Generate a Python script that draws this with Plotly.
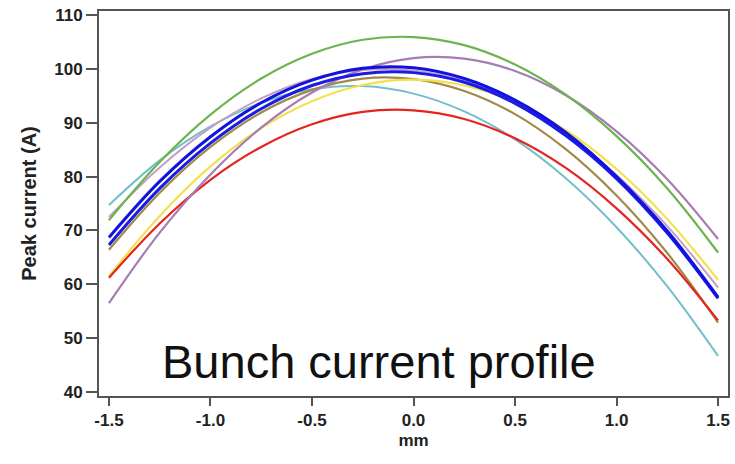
import plotly.graph_objects as go

x_mm = [-1.5, -1.25, -1.0, -0.75, -0.5, -0.25, 0.0, 0.25, 0.5, 0.75, 1.0, 1.25, 1.5]

green = [71.9, 82.7, 91.5, 98.2, 102.8, 105.4, 105.9, 104.4, 100.8, 95.2, 87.5, 77.8, 65.9]
purple = [56.5, 69.6, 80.4, 89.1, 95.6, 99.9, 102.0, 101.9, 99.6, 95.1, 88.4, 79.5, 68.4]
lavender = [72.5, 81.7, 89.1, 94.5, 98.1, 99.8, 99.7, 97.7, 93.8, 88.0, 80.3, 70.8, 59.4]
cyan = [74.7, 83.0, 89.3, 93.7, 96.2, 96.8, 95.4, 92.1, 86.9, 79.7, 70.6, 59.6, 46.7]
yellow = [61.5, 72.7, 81.9, 89.0, 94.0, 97.0, 98.0, 96.9, 93.8, 88.6, 81.4, 72.1, 60.8]
olive = [66.4, 77.0, 85.5, 91.9, 96.1, 98.2, 98.1, 95.9, 91.6, 85.1, 76.5, 65.8, 52.9]
red = [61.2, 71.3, 79.4, 85.5, 89.7, 92.0, 92.3, 90.7, 87.1, 81.6, 74.1, 64.7, 53.3]
blue1 = [68.7, 79.1, 87.4, 93.7, 97.9, 100.1, 100.2, 98.2, 94.2, 88.2, 80.0, 69.9, 57.6]
blue2 = [67.3, 77.8, 86.2, 92.6, 96.9, 99.1, 99.3, 97.5, 93.6, 87.6, 79.6, 69.5, 57.4]

y_ticks = [40, 50, 60, 70, 80, 90, 100, 110]
x_ticks = [-1.5, -1.0, -0.5, 0.0, 0.5, 1.0, 1.5]
x_tick_text = ["-1.5", "-1.0", "-0.5", "0.0", "0.5", "1.0", "1.5"]

series = [
    (cyan, "#72bfc9", 2),
    (lavender, "#c49ec4", 2),
    (olive, "#a08a48", 2.2),
    (yellow, "#f2e14e", 2.2),
    (red, "#e52420", 2.2),
    (purple, "#a77cb2", 2.2),
    (green, "#6cb44e", 2.2),
    (blue2, "#1b1be6", 3),
    (blue1, "#1212e0", 3),
]

fig = go.Figure()
for ys, col, w in series:
    fig.add_trace(go.Scatter(x=x_mm, y=ys, mode="lines",
                             line=dict(color=col, width=w, shape="spline", smoothing=1.0),
                             showlegend=False, hoverinfo="skip"))

FONT = "Liberation Sans, Arial"
tick_font = dict(family=FONT, size=17, color="#222222", weight="bold")

fig.update_layout(
    width=735, height=464,
    margin=dict(l=99, r=5, t=11, b=68),
    paper_bgcolor="white", plot_bgcolor="white",
    xaxis=dict(range=[-1.549, 1.549], tickvals=x_ticks, ticktext=x_tick_text,
               showgrid=False, zeroline=False,
               showline=True, linecolor="#555555", linewidth=2, mirror=True,
               ticks="outside", ticklen=8, tickwidth=2, tickcolor="#555555",
               tickfont=tick_font,
               title=dict(text="mm", font=dict(family=FONT, size=17,
                                                color="#222222", weight="bold"), standoff=5)),
    yaxis=dict(range=[39.26, 110.74], tickvals=y_ticks,
               showgrid=False, zeroline=False,
               showline=True, linecolor="#555555", linewidth=2, mirror=True,
               ticks="outside", ticklen=11, tickwidth=2, tickcolor="#555555",
               tickfont=tick_font,
               title=dict(text="Peak current (A)", font=dict(family=FONT, size=20,
                                                            color="#222222", weight="bold"), standoff=12)),
    annotations=[dict(text="Bunch current profile", xref="paper", yref="paper",
                      x=0.445, y=0.09, xanchor="center", yanchor="middle", showarrow=False,
                      font=dict(family=FONT, size=47, color="#111111"))],
)

fig.write_html("out.html")
